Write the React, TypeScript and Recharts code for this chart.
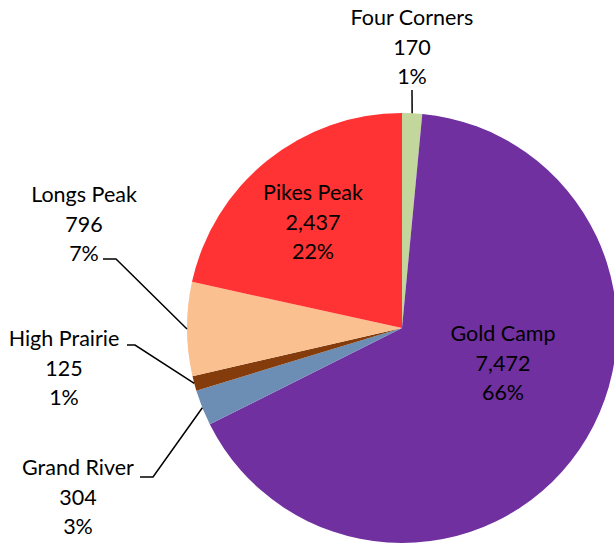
import { PieChart, Pie, Cell } from "recharts";

const regions = ["Four Corners", "Gold Camp", "Grand River", "High Prairie", "Longs Peak", "Pikes Peak"];
const counts = [170, 7472, 304, 125, 796, 2437];
const shares = ["1%", "66%", "3%", "1%", "7%", "22%"];
const colors = ["#C3D69B", "#7030A0", "#6C8EB4", "#843C0C", "#FAC090", "#FF3333"];

const data = regions.map((name, i) => ({ name, value: counts[i], share: shares[i] }));

// label placement relative to the pie centre (text centre x, first baseline y)
// elbow = where the leader line bends, tail = x where it meets the text
const labelSpots: Record<string, { dx: number; dy: number; elbow?: [number, number]; tail?: number }> = {
  "Four Corners": { dx: 10, dy: -303, elbow: [10, -238], tail: 10 },
  "Gold Camp": { dx: 101, dy: 13 },
  "Grand River": { dx: -324, dy: 147, elbow: [-249, 149], tail: -262 },
  "High Prairie": { dx: -338, dy: 18, elbow: [-267, 17], tail: -275 },
  "Longs Peak": { dx: -318, dy: -126, elbow: [-286, -69], tail: -299 },
  "Pikes Peak": { dx: -89, dy: -128 },
};

const RAD = Math.PI / 180;
const LINE = 29.5;

function renderLabel(props: any) {
  const { cx, cy, midAngle, outerRadius, name, value, payload } = props;
  const spot = labelSpots[name];
  if (!spot) return null;
  const tx = cx + spot.dx;
  const ty = cy + spot.dy;
  let leader = null;
  if (spot.elbow) {
    const ex = cx + outerRadius * Math.cos(-midAngle * RAD);
    const ey = cy + outerRadius * Math.sin(-midAngle * RAD);
    const bx = cx + spot.elbow[0];
    const by = cy + spot.elbow[1];
    const tailX = cx + (spot.tail ?? spot.elbow[0]);
    leader = (
      <polyline
        points={`${ex},${ey} ${bx},${by} ${tailX},${by}`}
        fill="none"
        stroke="#000"
        strokeWidth={1.5}
      />
    );
  }
  return (
    <g>
      {leader}
      <text x={tx} y={ty} textAnchor="middle" fill="#000" fontSize={21.5} fontFamily="Lato, 'Open Sans', sans-serif">
        <tspan x={tx} y={ty}>{name}</tspan>
        <tspan x={tx} y={ty + LINE}>{Number(value).toLocaleString("en-US")}</tspan>
        <tspan x={tx} y={ty + LINE * 2}>{payload?.share ?? ""}</tspan>
      </text>
    </g>
  );
}

export default function App() {
  return (
    <div style={{ position: "absolute", left: 0, top: 0, width: 614, height: 544, background: "#fff" }}>
      <PieChart width={614} height={544} margin={{ top: 0, right: 0, bottom: 0, left: 0 }}>
        <Pie
          data={data}
          dataKey="value"
          nameKey="name"
          cx={402}
          cy={328}
          outerRadius={215}
          startAngle={90}
          endAngle={-270}
          stroke="none"
          label={renderLabel}
          labelLine={false}
          isAnimationActive={false}
        >
          {data.map((d, i) => (
            <Cell key={d.name} fill={colors[i]} />
          ))}
        </Pie>
      </PieChart>
    </div>
  );
}
